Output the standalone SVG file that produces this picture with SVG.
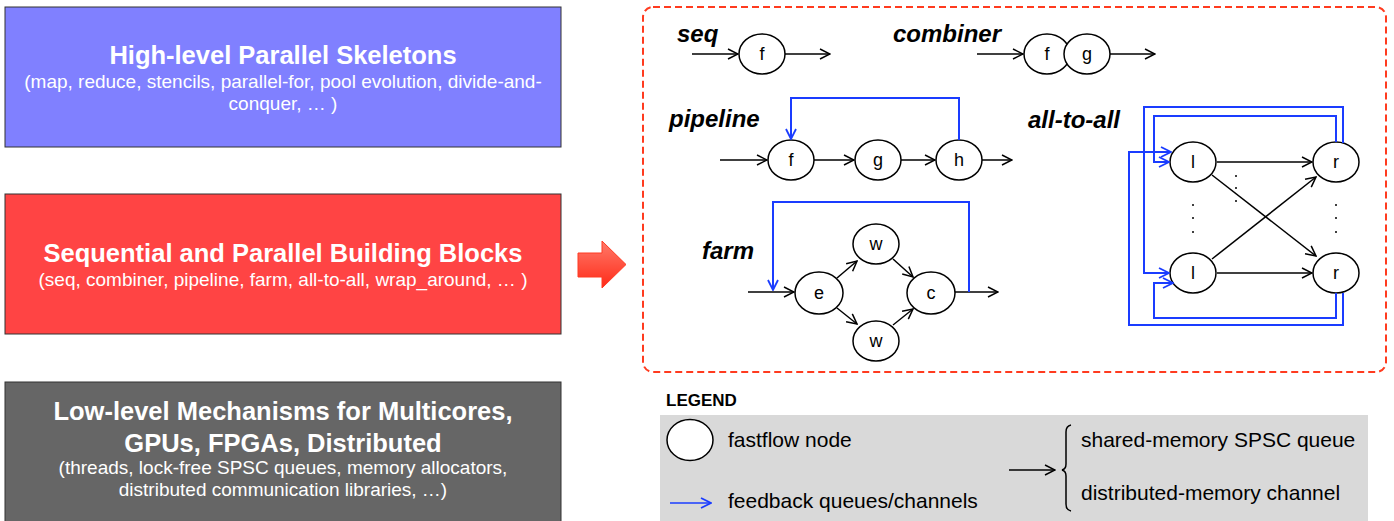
<svg xmlns="http://www.w3.org/2000/svg" width="1394" height="521" viewBox="0 0 1394 521">
  <style>
    .layer-title { font-family: "Liberation Sans", Arial, sans-serif; font-weight: bold; font-size: 25.5px; fill: #ffffff; text-anchor: middle; }
    .layer-sub { font-family: "Liberation Sans", Arial, sans-serif; font-size: 19px; fill: #ffffff; text-anchor: middle; }
    .kind { font-family: "Liberation Sans", Arial, sans-serif; font-weight: bold; font-style: italic; font-size: 24px; fill: #000000; }
    .node ellipse { fill: #ffffff; stroke: #000000; stroke-width: 1.5; }
    .node text { font-family: "Liberation Sans", Arial, sans-serif; font-size: 18px; fill: #000000; text-anchor: middle; }
    .edge { fill: none; stroke: #000000; stroke-width: 1.5; marker-end: url(#arrow); }
    .fb { fill: none; stroke: #1a3cff; stroke-width: 2; marker-end: url(#arrowBlue); }
    .dots circle { fill: #000000; }
    .legend-text { font-family: "Liberation Sans", Arial, sans-serif; font-size: 21px; fill: #000000; }
  </style>
  <defs>
    <marker id="arrow" viewBox="0 0 12 12" refX="11" refY="6" markerWidth="12" markerHeight="12" markerUnits="userSpaceOnUse" orient="auto">
      <path d="M1,1 L11,6 L1,11" fill="none" stroke="#000000" stroke-width="1.5"/>
    </marker>
    <marker id="arrowBlue" viewBox="0 0 12 12" refX="11" refY="6" markerWidth="12" markerHeight="12" markerUnits="userSpaceOnUse" orient="auto">
      <path d="M1,1 L11,6 L1,11" fill="none" stroke="#1a3cff" stroke-width="1.8"/>
    </marker>
    <linearGradient id="bigArrowFill" x1="0" y1="0" x2="0" y2="1">
      <stop offset="0" stop-color="#ff7a6a"/>
      <stop offset="1" stop-color="#ff2a18"/>
    </linearGradient>
  </defs>

  <!-- layer stack -->
  <g id="layer-skeletons">
    <rect x="5" y="7" width="556" height="140" fill="#8080ff" stroke="#333333" stroke-width="1"/>
    <text class="layer-title" x="283" y="64">High-level Parallel Skeletons</text>
    <text class="layer-sub" x="283" y="88">(map, reduce, stencils, parallel-for, pool evolution, divide-and-</text>
    <text class="layer-sub" x="283" y="110">conquer, … )</text>
  </g>
  <g id="layer-building-blocks">
    <rect x="5" y="194" width="556" height="140" fill="#ff4444" stroke="#333333" stroke-width="1"/>
    <text class="layer-title" x="283" y="262">Sequential and Parallel Building Blocks</text>
    <text class="layer-sub" x="283" y="286">(seq, combiner, pipeline, farm, all-to-all, wrap_around, … )</text>
  </g>
  <g id="layer-low-level">
    <rect x="5" y="382" width="556" height="145" fill="#666666" stroke="#333333" stroke-width="1"/>
    <text class="layer-title" x="283" y="420">Low-level Mechanisms for Multicores,</text>
    <text class="layer-title" x="283" y="452">GPUs, FPGAs, Distributed</text>
    <text class="layer-sub" x="283" y="474">(threads, lock-free SPSC queues, memory allocators,</text>
    <text class="layer-sub" x="283" y="496">distributed communication libraries, …)</text>
  </g>

  <!-- expansion arrow -->
  <g id="expand-arrow">
    <path d="M578,253 L602,253 L602,241 L626,264.5 L602,288 L602,277 L578,277 Z" fill="url(#bigArrowFill)" stroke="#ff3a22" stroke-width="1"/>
  </g>

  <!-- building blocks panel -->
  <g id="blocks-panel">
    <rect x="643" y="7" width="743" height="365" rx="10" ry="10" fill="none" stroke="#ff3b1f" stroke-width="2" stroke-dasharray="7,4"/>
    <text class="kind" x="677" y="42">seq</text>
    <text class="kind" x="893" y="42">combiner</text>
    <text class="kind" x="669" y="127">pipeline</text>
    <text class="kind" x="1028" y="128">all-to-all</text>
    <text class="kind" x="702" y="259">farm</text>
  </g>

  <!-- nodes -->
  <g id="seq-f" class="node"><ellipse cx="762" cy="54" rx="23" ry="20"/><text x="762" y="60">f</text></g>

  <g id="comb-f" class="node"><ellipse cx="1047" cy="54" rx="23" ry="20"/><text x="1047" y="60">f</text></g>
  <g id="comb-g" class="node"><ellipse cx="1087" cy="54" rx="23" ry="20"/><text x="1087" y="60">g</text></g>

  <g id="pipe-f" class="node"><ellipse cx="791" cy="160" rx="23" ry="20"/><text x="791" y="166">f</text></g>
  <g id="pipe-g" class="node"><ellipse cx="878" cy="160" rx="23" ry="20"/><text x="878" y="166">g</text></g>
  <g id="pipe-h" class="node"><ellipse cx="959" cy="160" rx="23" ry="20"/><text x="959" y="166">h</text></g>

  <g id="farm-e" class="node"><ellipse cx="819" cy="293" rx="24" ry="21"/><text x="819" y="299">e</text></g>
  <g id="farm-w1" class="node"><ellipse cx="876" cy="244" rx="23" ry="20"/><text x="876" y="250">w</text></g>
  <g id="farm-w2" class="node"><ellipse cx="876" cy="341" rx="23" ry="20"/><text x="876" y="347">w</text></g>
  <g id="farm-c" class="node"><ellipse cx="931" cy="293" rx="24" ry="21"/><text x="931" y="299">c</text></g>

  <g id="a2a-l1" class="node"><ellipse cx="1193" cy="162" rx="23" ry="20"/><text x="1193" y="168">l</text></g>
  <g id="a2a-l2" class="node"><ellipse cx="1193" cy="273" rx="23" ry="20"/><text x="1193" y="279">l</text></g>
  <g id="a2a-r1" class="node"><ellipse cx="1336" cy="162" rx="23" ry="20"/><text x="1336" y="168">r</text></g>
  <g id="a2a-r2" class="node"><ellipse cx="1336" cy="273" rx="23" ry="20"/><text x="1336" y="279">r</text></g>

  <!-- connectors -->
  <g id="connectors">
    <!-- seq -->
    <line class="edge" x1="692" y1="54" x2="738" y2="54"/>
    <line class="edge" x1="785" y1="54" x2="830" y2="54"/>
    <!-- combiner -->
    <line class="edge" x1="977" y1="54" x2="1023" y2="54"/>
    <line class="edge" x1="1110" y1="54" x2="1155" y2="54"/>
    <!-- pipeline -->
    <line class="edge" x1="720" y1="160" x2="767" y2="160"/>
    <line class="edge" x1="814" y1="160" x2="854" y2="160"/>
    <line class="edge" x1="901" y1="160" x2="935" y2="160"/>
    <line class="edge" x1="982" y1="160" x2="1012" y2="160"/>
    <path class="fb" d="M959,140 L959,98 L791,98 L791,139"/>
    <!-- farm -->
    <line class="edge" x1="748" y1="292" x2="794" y2="292"/>
    <line class="edge" x1="837" y1="278" x2="857" y2="261"/>
    <line class="edge" x1="837" y1="308" x2="857" y2="324"/>
    <line class="edge" x1="893" y1="259" x2="913" y2="277"/>
    <line class="edge" x1="893" y1="325" x2="913" y2="309"/>
    <line class="edge" x1="955" y1="292" x2="998" y2="292"/>
    <path class="fb" d="M969,292 L969,202 L773,202 L773,290"/>
    <!-- all-to-all -->
    <line class="edge" x1="1217" y1="162" x2="1312" y2="162"/>
    <line class="edge" x1="1217" y1="273" x2="1312" y2="273"/>
    <line class="edge" x1="1212" y1="175" x2="1316" y2="256"/>
    <line class="edge" x1="1212" y1="259" x2="1316" y2="177"/>
    <path class="fb" d="M1343,143 L1343,107 L1144,107 L1144,273 L1169,273"/>
    <path class="fb" d="M1336,142 L1336,116 L1154,116 L1154,162 L1169,162"/>
    <path class="fb" d="M1343,293 L1343,325 L1129,325 L1129,152 L1171,152"/>
    <path class="fb" d="M1336,293 L1336,318 L1154,318 L1154,283 L1173,283"/>
    <g class="dots">
      <circle cx="1193" cy="205" r="1"/><circle cx="1193" cy="218" r="1"/><circle cx="1193" cy="232" r="1"/>
      <circle cx="1336" cy="205" r="1"/><circle cx="1336" cy="218" r="1"/><circle cx="1336" cy="232" r="1"/>
      <circle cx="1236" cy="176" r="1"/><circle cx="1236" cy="188" r="1"/><circle cx="1236" cy="201" r="1"/>
    </g>
  </g>

  <!-- legend -->
  <g id="legend">
    <text x="666" y="406" font-family="'Liberation Sans', Arial, sans-serif" font-weight="bold" font-size="17" fill="#000000">LEGEND</text>
    <rect x="660" y="415" width="708" height="110" fill="#d9d9d9"/>
    <ellipse cx="690" cy="440" rx="23" ry="20.5" fill="#ffffff" stroke="#000000" stroke-width="1.5"/>
    <text class="legend-text" x="728" y="447">fastflow node</text>
    <line x1="670" y1="503" x2="711" y2="503" stroke="#1a3cff" stroke-width="1.5" marker-end="url(#arrowBlue)"/>
    <text class="legend-text" x="728" y="508">feedback queues/channels</text>
    <line x1="1009" y1="470" x2="1055" y2="470" stroke="#000000" stroke-width="1.5" marker-end="url(#arrow)"/>
    <path d="M1071,425 Q1066,426 1066,432 L1066,464 Q1066,469 1062,470 Q1066,471 1066,476 L1066,504 Q1066,510 1071,511" fill="none" stroke="#000000" stroke-width="1.5"/>
    <text class="legend-text" x="1081" y="447">shared-memory SPSC queue</text>
    <text class="legend-text" x="1081" y="500">distributed-memory channel</text>
  </g>
</svg>
